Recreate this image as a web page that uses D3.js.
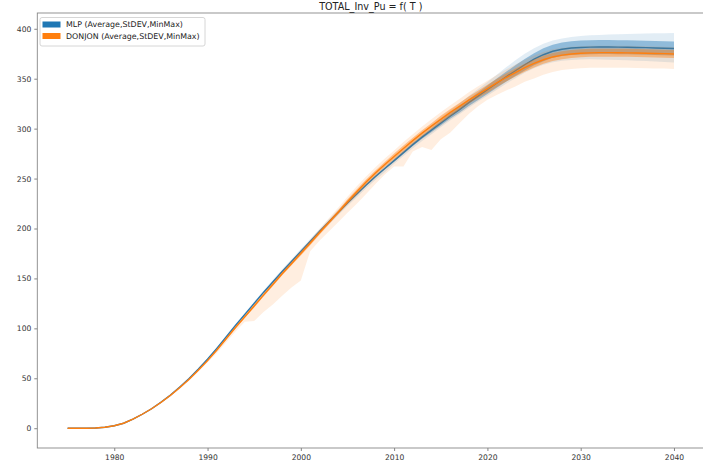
<!DOCTYPE html>
<html>
<head>
<meta charset="utf-8">
<script src="https://cdn.jsdelivr.net/npm/d3@7"></script>
<style>
  body { margin: 0; background: #fff; }
  text { font-family: "DejaVu Sans", sans-serif; }
</style>
</head>
<body>
<div id="chart"></div>
<script>
// years on the x axis
var years = d3.range(1975, 2041);

// MLP results
var mlpMean = [0, 0, 0, 0.3, 1, 2.5, 5, 9, 14, 19.5,
  26, 33, 41, 49.5, 59, 69, 80, 91.5, 103, 114,
  125, 136, 146.5, 157, 167, 177, 187, 197, 206.5, 216,
  225.5, 234.5, 243.5, 252, 260, 268, 276, 284, 291.5, 298.5,
  305.5, 312.5, 319, 326, 332.5, 339, 345.5, 352, 358, 364,
  369.5, 374, 377.5, 379.5, 380.7, 381.3, 381.6, 381.7, 381.7, 381.6,
  381.5, 381.3, 381.1, 380.8, 380.5, 380.2];
var mlpStd = [0.2, 0.2, 0.2, 0.2, 0.2, 0.2, 0.2, 0.2, 0.2, 0.2,
  0.4, 0.4, 0.4, 0.4, 0.4, 0.7, 0.7, 0.7, 0.7, 0.7,
  0.7, 0.7, 0.7, 0.7, 0.7, 1, 1, 1, 1, 1,
  1, 1, 1, 1, 1, 1.2, 1.3, 1.5, 1.7, 2,
  2.3, 2.6, 3, 3.4, 3.8, 4.2, 4.6, 5, 5.4, 5.8,
  6.1, 6.4, 6.6, 6.8, 6.9, 7, 7, 7, 7, 7,
  7, 7, 7, 7, 7, 7];
var mlpMin = [0, 0, 0, 0.1, 0.7, 2.1, 4.5, 8.4, 13.3, 18.7,
  25, 32, 40, 48.4, 57.8, 67.7, 78.6, 90, 101.4, 112.3,
  123.2, 134, 144.4, 154.8, 164.7, 174.8, 184.8, 194.6, 203.9, 213.2,
  222.5, 231.3, 240.2, 248.5, 256.4, 264.8, 272.6, 280.4, 287.6, 294.4,
  301.3, 308.1, 314.4, 321, 327.2, 333, 339, 345, 350.5, 356,
  360.5, 364, 366.5, 368, 368.8, 369.3, 369.4, 369.3, 369.1, 368.8,
  368.5, 368.1, 367.7, 367.2, 366.7, 366.2];
var mlpMax = [0.3, 0.3, 0.3, 0.6, 1.3, 2.9, 5.5, 9.6, 14.7, 20.3,
  27, 34, 42, 50.6, 60.2, 70.3, 81.4, 93, 104.6, 115.7,
  126.8, 138, 148.6, 159.2, 169.3, 179.4, 189.5, 199.6, 209.2, 218.8,
  228.4, 237.6, 246.8, 255.5, 263.7, 271.8, 280, 288.2, 296, 303.4,
  310.8, 318.2, 325.3, 332.8, 339.8, 346.6, 354, 361.4, 368.4, 375,
  380.5, 385, 388.3, 390.2, 391.7, 392.8, 393.4, 393.8, 394.2, 394.5,
  394.8, 395, 395.2, 395.4, 395.6, 395.8];

// DONJON results
var donMean = [0, 0, 0, 0.3, 1, 2.5, 5, 9, 14, 19.5,
  25.8, 32.7, 40.5, 48.8, 58, 67.7, 78.4, 89.6, 100.8, 111.6,
  122.4, 133.3, 143.9, 154.6, 164.8, 175, 185.3, 195.8, 206, 216.2,
  226.8, 236.8, 246.6, 255.6, 264, 272.2, 280.2, 288, 295.5, 302.5,
  309.3, 316, 322.3, 328.6, 334.4, 340, 345.8, 351.2, 356.2, 361,
  365.3, 369, 371.8, 373.6, 374.8, 375.5, 375.9, 376.1, 376.1, 376,
  375.9, 375.7, 375.5, 375.3, 375.1, 374.8];
var donStd = [0.3, 0.3, 0.3, 0.3, 0.3, 0.3, 0.3, 0.3, 0.3, 0.3,
  0.6, 0.6, 0.6, 0.6, 0.6, 1, 1, 1, 1, 1,
  1.5, 1.5, 1.5, 1.5, 1.5, 2, 2, 2, 2, 2,
  2.5, 2.5, 2.5, 2.5, 2.5, 3, 3, 3, 3, 3,
  3.5, 3.5, 3.5, 3.5, 3.5, 4, 4, 4, 4, 4,
  4, 4, 4, 4, 4, 4, 4, 4, 4, 4,
  4, 4, 4, 4, 4, 4];
var donMin = [0, 0, 0, 0.1, 0.6, 2, 4.4, 8.3, 13.2, 18.6,
  24.8, 31.5, 39.1, 47.2, 56.2, 65.7, 75.4, 86.1, 96.8, 106.6,
  107.4, 116.3, 123.9, 132.6, 140.8, 148, 177.3, 187.8, 197, 206.2,
  215.8, 224.8, 234.6, 244.6, 254, 262.2, 262.2, 277, 281.5, 278.5,
  289.3, 296, 305.3, 314.6, 322.4, 329, 333.8, 338.2, 342.2, 347,
  350.3, 354, 356.8, 358.6, 359.8, 360.5, 360.9, 361.1, 361.1, 361,
  360.9, 360.7, 360.5, 360.3, 360.1, 359.8];
var donMax = [0.3, 0.3, 0.3, 0.7, 1.5, 3.1, 5.7, 9.8, 14.9, 20.5,
  27, 34.1, 42.1, 50.5, 59.9, 69.2, 80.2, 91.6, 103, 114,
  125, 136.2, 147, 157.9, 168.2, 178, 188.8, 199.6, 210.2, 220.8,
  231.8, 242.2, 252.2, 261.4, 270, 278.2, 286.5, 294.5, 302.2, 309.4,
  316.3, 323.2, 329.8, 336.4, 342.4, 348, 353.8, 359.2, 364.2, 369,
  373.3, 376.8, 379.4, 381, 382, 382.5, 382.9, 383.1, 383.1, 383,
  382.9, 382.7, 382.5, 382.3, 382.1, 381.8];

var xTicks = [1980, 1990, 2000, 2010, 2020, 2030, 2040];
var yTicks = [0, 50, 100, 150, 200, 250, 300, 350, 400];

// svg size
var svgWidth = 703;
var svgHeight = 467;
var plot = { left: 37.3, right: 704.3, top: 13, bottom: 448 };

var svg = d3.select("#chart").append("svg")
  .attr("width", svgWidth)
  .attr("height", svgHeight);

// scales (matplotlib style 5% margins)
var xscale = d3.scaleLinear().domain([1971.75, 2043.25]).range([plot.left, plot.right]);
var yscale = d3.scaleLinear().domain([-19.8, 415.8]).range([plot.bottom, plot.top]);

var idx = d3.range(years.length);

function band(lo, hi) {
  return d3.area()
    .x(i => xscale(years[i]))
    .y0(i => yscale(lo(i)))
    .y1(i => yscale(hi(i)));
}
var line = function(arr) {
  return d3.line().x(i => xscale(years[i])).y(i => yscale(arr[i]));
};

var series = [
  { name: "MLP (Average,StDEV,MinMax)", color: "#1f77b4", mean: mlpMean, std: mlpStd, min: mlpMin, max: mlpMax },
  { name: "DONJON (Average,StDEV,MinMax)", color: "#ff7f0e", mean: donMean, std: donStd, min: donMin, max: donMax }
];

var chartGroup = svg.append("g");

series.forEach(function(s) {
  // min / max envelope
  chartGroup.append("path")
    .datum(idx)
    .attr("d", band(i => s.min[i], i => s.max[i]))
    .attr("fill", s.color)
    .attr("fill-opacity", 0.13);
  // mean +- stdev
  chartGroup.append("path")
    .datum(idx)
    .attr("d", band(i => s.mean[i] - s.std[i], i => s.mean[i] + s.std[i]))
    .attr("fill", s.color)
    .attr("fill-opacity", 0.42);
  // average
  chartGroup.append("path")
    .datum(idx)
    .attr("d", line(s.mean))
    .attr("fill", "none")
    .attr("stroke", s.color)
    .attr("stroke-width", 1.4);
});

// axes
var xAxis = svg.append("g")
  .attr("transform", `translate(0, ${plot.bottom})`)
  .call(d3.axisBottom(xscale).tickValues(xTicks).tickFormat(d3.format("d")).tickSize(3).tickSizeOuter(0));
var yAxis = svg.append("g")
  .attr("transform", `translate(${plot.left}, 0)`)
  .call(d3.axisLeft(yscale).tickValues(yTicks).tickSize(3).tickSizeOuter(0));

[xAxis, yAxis].forEach(function(a) {
  a.select(".domain").remove();
  a.selectAll(".tick line").attr("stroke", "#666").attr("stroke-width", 0.8);
  a.selectAll(".tick text").attr("fill", "#333").style("font-size", "7.6px");
});
xAxis.selectAll(".tick text").attr("dy", "0.9em").attr("y", 5);
yAxis.selectAll(".tick text").attr("x", -6);

// spines
svg.append("rect")
  .attr("x", plot.left)
  .attr("y", plot.top)
  .attr("width", plot.right - plot.left)
  .attr("height", plot.bottom - plot.top)
  .attr("fill", "none")
  .attr("stroke", "#888")
  .attr("stroke-width", 0.9);

// title
svg.append("text")
  .attr("x", (plot.left + plot.right) / 2)
  .attr("y", 10)
  .attr("text-anchor", "middle")
  .attr("fill", "#222")
  .style("font-size", "9.6px")
  .text("TOTAL_Inv_Pu = f( T )");

// legend
var legend = svg.append("g").attr("transform", "translate(40, 17.5)");
legend.append("rect")
  .attr("width", 165)
  .attr("height", 28.5)
  .attr("rx", 2)
  .attr("fill", "#fff")
  .attr("fill-opacity", 0.8)
  .attr("stroke", "#ccc")
  .attr("stroke-width", 0.8);
series.forEach(function(s, i) {
  legend.append("rect")
    .attr("x", 2.5)
    .attr("y", 4 + i * 11.5)
    .attr("width", 18)
    .attr("height", 6)
    .attr("fill", s.color);
  legend.append("text")
    .attr("x", 26)
    .attr("y", 7 + i * 11.5)
    .attr("dy", "0.35em")
    .attr("fill", "#222")
    .style("font-size", "7.9px")
    .text(s.name);
});
</script>
</body>
</html>
